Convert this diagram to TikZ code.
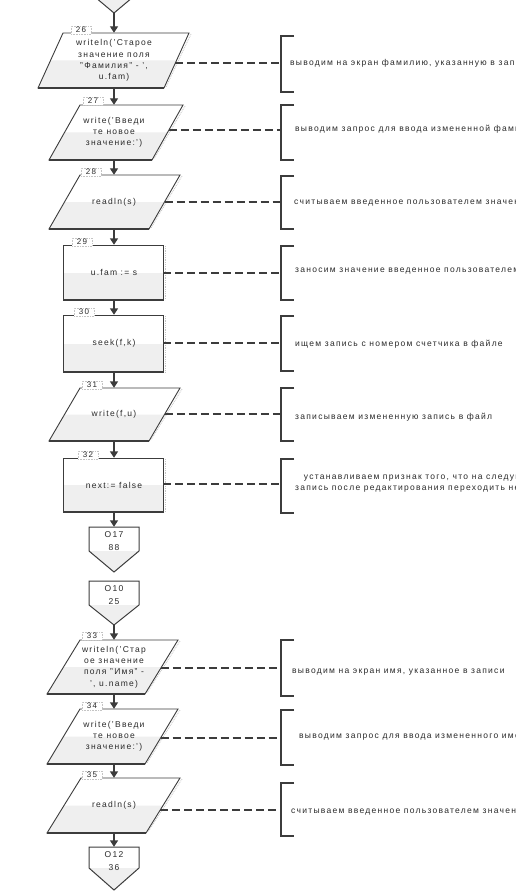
\documentclass[tikz,border=0pt]{standalone}
\usepackage{fontspec}
\setmainfont{Liberation Sans}[LetterSpace=15]
\usetikzlibrary{arrows.meta}
\definecolor{ln}{HTML}{3C3C3C}
\definecolor{gfill}{HTML}{EFEFEF}
\definecolor{shd}{HTML}{C4C4C4}
\definecolor{txt}{HTML}{2A2A2A}
\tikzset{
 blocktext/.style={inner sep=0pt, align=center, text=txt, font=\fontsize{8.5}{11.2}\selectfont},
 notetext/.style={inner sep=0pt, align=center, text=txt, font=\fontsize{8.5}{11}\selectfont},
 numlbl/.style={fill=white, draw=shd, densely dotted, line width=0.6pt, inner sep=0pt, minimum width=20pt, minimum height=8pt, text=txt, font=\fontsize{8}{8}\selectfont},
 flowarrow/.style={draw=ln, line width=1.4pt, -{Triangle[width=8pt,length=6.5pt]}},
 dashconn/.style={draw=ln, line width=1.8pt, dash pattern=on 8pt off 4pt},
 bracketline/.style={draw=ln, line width=1.1pt},
 blockedge/.style={draw=ln, line width=0.9pt, line join=miter},
 bottomedge/.style={draw=ln, line width=1.7pt},
 shadowline/.style={draw=shd, densely dotted, line width=0.8pt},
}
% parallelogram block: name, top, bottom, top-left x, bottom-left x, width, text, dash y
\newcommand\parblk[8]{%
 \fill[gfill] ({(#4+#5)/2},{(#2+#3)/2}) -- ({(#4+#5)/2+#6},{(#2+#3)/2}) -- ({#5+#6},#3) -- (#5,#3) -- cycle;
 \draw[shadowline] ({#4+#6+2},{#2+1}) -- ({#5+#6+2},{#3-1});
 \draw[blockedge] (#4,#2) -- ({#4+#6},#2) -- ({#5+#6},#3) -- (#5,#3) -- cycle;
 \draw[bottomedge] (#5,#3) -- ({#5+#6},#3);
 \node[blocktext, minimum height={(#3-#2)*1pt}] (#1) at (114,{(#2+#3)/2}) {#7};
 \coordinate (#1r) at ({#4+#6+(#5-#4)*(#8-#2)/(#3-#2)},#8);
}
% rectangle block: name, top, bottom, text, dash y
\newcommand\recblk[5]{%
 \fill[gfill] (63,{(#2+#3)/2}) rectangle (163,#3);
 \draw[shadowline] (165,{#2+1}) -- (165,#3);
 \draw[blockedge] (63,#2) rectangle (163,#3);
 \draw[bottomedge] (63,#3) -- (163,#3);
 \node[blocktext, minimum height={(#3-#2)*1pt}] (#1) at (114,{(#2+#3)/2}) {#4};
 \coordinate (#1r) at (163,#5);
}
% off-page connector: name, top, mid, tip, left, right, text
\newcommand\offpg[7]{%
 \fill[gfill] (#5,#3) -- (#6,#3) -- ({(#5+#6)/2},#4) -- cycle;
 \draw[blockedge, line width=1pt] (#5,#2) -- (#6,#2) -- (#6,#3) -- ({(#5+#6)/2},#4) -- (#5,#3) -- cycle;
 \node[inner sep=0pt, minimum height={(#4-#2)*1pt}, minimum width={(#6-#5)*1pt}] (#1) at ({(#5+#6)/2},{(#2+#4)/2}) {};
 \node[blocktext, font=\fontsize{8.5}{13}\selectfont] (#1t) at ({(#5+#6)/2},{#2+14.5}) {#7};
}
% comment bracket: name, top, bottom, dash y, text x, text y, text
\newcommand\brk[7]{%
 \draw[bracketline] (294,#2) -- (281,#2) -- (281,#3) -- (294,#3);
 \coordinate (#1) at (281,#4);
 \node[notetext, anchor=west] (#1t) at (#5,#6) {#7};
}
\begin{document}
\begin{tikzpicture}[x=1pt,y=-1pt]
\useasboundingbox (0,0) rectangle (516,896);
\fill[white] (0,0) rectangle (516,896);

% blocks
\offpg{o0}{-32}{-8}{13}{89}{139}{}
\parblk{b26}{33}{88}{63}{38}{126}{writeln('Старое\\значение поля\\"Фамилия" - ',\\u.fam)}{63}
\parblk{b27}{105}{160}{80}{49}{103}{write('Введи\\те новое\\значение:')}{130}
\parblk{b28}{175}{229}{80}{49}{100}{readln(s)}{202}
\recblk{b29}{245}{300}{u.fam := s}{273}
\recblk{b30}{315}{372}{seek(f,k)}{343}
\parblk{b31}{388}{441}{80}{49}{100}{write(f,u)}{414}
\recblk{b32}{458}{512}{next:= false}{484}
\offpg{o17}{527}{551}{572}{89}{139}{O17\\88}
\offpg{o10}{581}{605}{625}{89}{139}{O10\\25}
\parblk{b33}{640}{694}{80}{47}{98}{writeln('Стар\\ое значение\\поля "Имя" -\\', u.name)}{668}
\parblk{b34}{709}{764}{80}{47}{98}{write('Введи\\те новое\\значение:')}{738}
\parblk{b35}{778}{833}{81}{47}{99}{readln(s)}{810}
\offpg{o12}{847}{868}{890}{89}{139}{O12\\36}

% flow arrows
\draw[flowarrow] (o0.south) -- (b26.north);
\draw[flowarrow] (b26.south) -- (b27.north);
\draw[flowarrow] (b27.south) -- (b28.north);
\draw[flowarrow] (b28.south) -- (b29.north);
\draw[flowarrow] (b29.south) -- (b30.north);
\draw[flowarrow] (b30.south) -- (b31.north);
\draw[flowarrow] (b31.south) -- (b32.north);
\draw[flowarrow] (b32.south) -- (o17.north);
\draw[flowarrow] (o10.south) -- (b33.north);
\draw[flowarrow] (b33.south) -- (b34.north);
\draw[flowarrow] (b34.south) -- (b35.north);
\draw[flowarrow] (b35.south) -- (o12.north);

% number labels
\node[numlbl] (n26) at (81,30) {26};
\node[numlbl] (n27) at (93,101) {27};
\node[numlbl] (n28) at (91,172) {28};
\node[numlbl] (n29) at (82,242) {29};
\node[numlbl] (n30) at (84,312) {30};
\node[numlbl] (n31) at (92,385) {31};
\node[numlbl] (n32) at (88,455) {32};
\node[numlbl] (n33) at (92,636) {33};
\node[numlbl] (n34) at (92,706) {34};
\node[numlbl] (n35) at (92,775) {35};

% comments
\brk{k26}{36}{92}{63}{290}{63}{выводим на экран фамилию, указанную в записи}
\brk{k27}{105}{160}{130}{295}{129}{выводим запрос для ввода измененной фамилии}
\brk{k28}{176}{229}{202}{294}{203}{считываем введенное пользователем значение}
\brk{k29}{246}{300}{273}{295}{271}{заносим значение введенное пользователем в запись}
\brk{k30}{316}{371}{343}{295}{344}{ищем запись с номером счетчика в файле}
\brk{k31}{388}{441}{414}{295}{417}{записываем измененную запись в файл}
\brk{k32}{459}{513}{484}{295}{484}{устанавливаем признак того, что на следующую\\запись после редактирования переходить не нужно}
\brk{k33}{640}{696}{668}{292}{672}{выводим на экран имя, указанное в записи}
\brk{k34}{710}{765}{738}{299}{737}{выводим запрос для ввода измененного имени}
\brk{k35}{783}{836}{810}{291}{812}{считываем введенное пользователем значение}

% dashed connectors
\draw[dashconn] (b26r) -- (k26);
\draw[dashconn] (b27r) -- (k27);
\draw[dashconn] (b28r) -- (k28);
\draw[dashconn] (b29r) -- (k29);
\draw[dashconn] (b30r) -- (k30);
\draw[dashconn] (b31r) -- (k31);
\draw[dashconn] (b32r) -- (k32);
\draw[dashconn] (b33r) -- (k33);
\draw[dashconn] (b34r) -- (k34);
\draw[dashconn] (b35r) -- (k35);
\end{tikzpicture}
\end{document}
